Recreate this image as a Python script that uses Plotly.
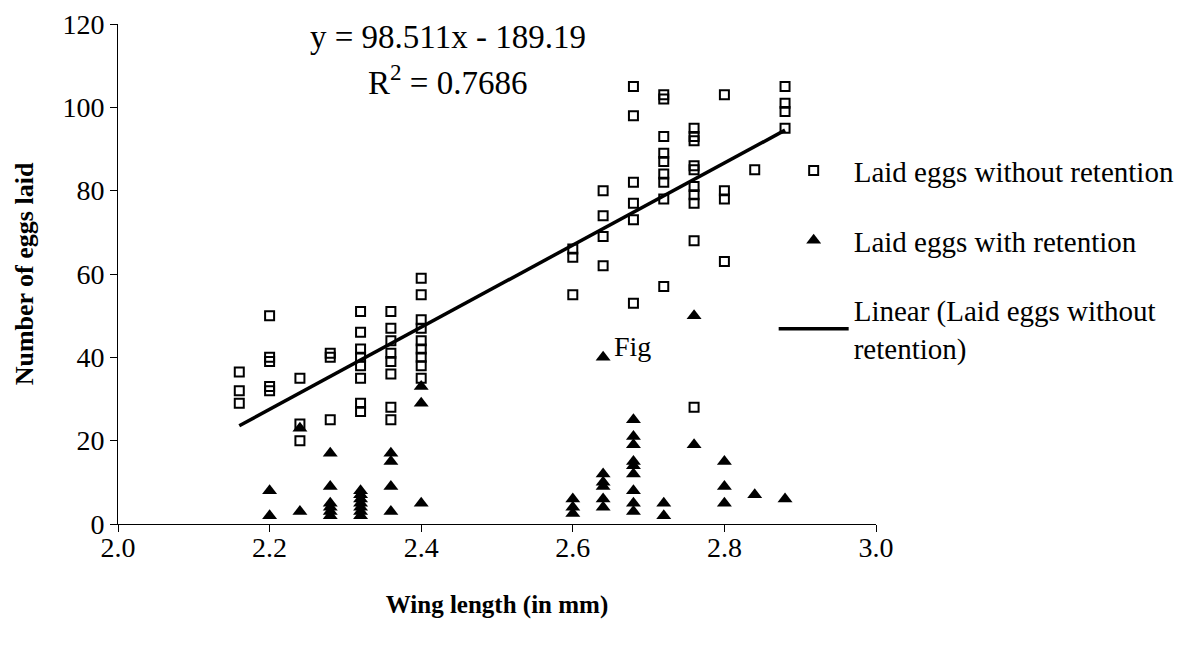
import plotly.graph_objects as go

# Laid eggs without retention (open squares)
wing_without = ([2.16]*3 + [2.20]*5 + [2.24]*3 + [2.28]*3 + [2.32]*8 + [2.36]*8 + [2.40]*9 +
                [2.60]*3 + [2.64]*4 + [2.68]*6 + [2.72]*9 + [2.76]*10 + [2.80]*4 + [2.84]*1 + [2.88]*4)
eggs_without = ([36.5, 32, 29] +
                [50, 40, 39, 33, 32] +
                [35, 24, 20] +
                [41, 40, 25] +
                [51, 46, 42, 40, 38, 35, 29, 27] +
                [51, 47, 44, 41, 39, 36, 28, 25] +
                [59, 55, 49, 47, 44, 42, 40, 38, 35] +
                [66, 64, 55] +
                [80, 74, 69, 62] +
                [105, 98, 82, 77, 73, 53] +
                [103, 102, 93, 89, 87, 84, 82, 78, 57] +
                [95, 93, 92, 86, 85, 81, 79, 77, 68, 28] +
                [103, 80, 78, 63] +
                [85] +
                [105, 101, 99, 95])

# Laid eggs with retention (filled triangles)
wing_with = ([2.20]*2 + [2.24]*2 + [2.28]*6 + [2.32]*7 + [2.36]*4 + [2.40]*3 +
             [2.60]*3 + [2.64]*6 + [2.68]*9 + [2.72]*2 + [2.76]*2 + [2.80]*3 + [2.84]*1 + [2.88]*1)
eggs_with = ([8, 2] +
             [23, 3] +
             [17, 9, 5, 4, 3, 2] +
             [8, 7, 6, 5, 4, 3, 2] +
             [17, 15, 9, 3] +
             [33, 29, 5] +
             [6, 4, 2.5] +
             [40, 12, 10, 9, 6, 4] +
             [25, 21, 19, 15, 14, 12, 8, 5, 3] +
             [5, 2] +
             [50, 19] +
             [15, 9, 5] +
             [7] +
             [6])

# Linear trendline (as labelled on the chart)
trend_slope = 98.511
trend_intercept = -189.19
trend_x = [min(wing_without), max(wing_without)]
trend_y = [trend_slope * x + trend_intercept for x in trend_x]

x_ticks = [2.0, 2.2, 2.4, 2.6, 2.8, 3.0]
x_tick_labels = ["2.0", "2.2", "2.4", "2.6", "2.8", "3.0"]
y_ticks = [0, 20, 40, 60, 80, 100, 120]

FONT = "Liberation Serif, Times New Roman, serif"

fig = go.Figure()
fig.add_trace(go.Scatter(
    x=wing_without, y=eggs_without, mode="markers",
    name="Laid eggs without retention", legendgroup="a",
    marker=dict(symbol="square-open", size=9, color="black", line=dict(width=2, color="black")),
))
fig.add_trace(go.Scatter(
    x=wing_with, y=eggs_with, mode="markers",
    name="Laid eggs with retention", legendgroup="b",
    marker=dict(symbol="triangle-up", size=13, color="black"),
))
fig.add_trace(go.Scatter(
    x=trend_x, y=trend_y, mode="lines",
    name="Linear (Laid eggs without<br>retention)", legendgroup="c",
    line=dict(color="black", width=3.5),
))

fig.add_annotation(x=2.435, y=116.9, xref="x", yref="y", showarrow=False,
                   text="y = 98.511x - 189.19", font=dict(family=FONT, size=33, color="black"))
fig.add_annotation(x=2.435, y=106.6, xref="x", yref="y", showarrow=False,
                   text="R<sup>2</sup> = 0.7686", font=dict(family=FONT, size=33, color="black"))
fig.add_annotation(x=2.652, y=42.5, xref="x", yref="y", showarrow=False, xanchor="left",
                   text="Fig", font=dict(family=FONT, size=28, color="black"))

# The page body adds an 8 px offset, so the figure is 8 px smaller on each leading side
fig.update_layout(
    width=1186, height=643,
    margin=dict(l=110, r=318, t=16, b=127, autoexpand=False),
    paper_bgcolor="white", plot_bgcolor="white",
    font=dict(family=FONT, color="black", size=28),
    showlegend=True,
    legend=dict(
        x=0.865, xanchor="left", y=0.7575, yanchor="top",
        font=dict(family=FONT, size=29, color="black"),
        tracegroupgap=29, itemwidth=70,
        bgcolor="rgba(0,0,0,0)",
    ),
    xaxis=dict(
        range=[2.0, 3.0], tickvals=x_ticks, ticktext=x_tick_labels,
        showline=True, linecolor="black", linewidth=1,
        ticks="outside", ticklen=7, tickcolor="black",
        showgrid=False, zeroline=False, automargin=False,
        ticklabelstandoff=-9,
        tickfont=dict(family=FONT, size=28, color="black"),
        title=dict(text="<b>Wing length (in mm)</b>", font=dict(family=FONT, size=25, color="black"), standoff=33),
    ),
    yaxis=dict(
        range=[0, 120], tickvals=y_ticks,
        showline=True, linecolor="black", linewidth=1,
        ticks="outside", ticklen=7, tickcolor="black",
        showgrid=False, zeroline=False, automargin=False,
        tickfont=dict(family=FONT, size=28, color="black"),
        title=dict(text="<b>Number of eggs laid</b>", font=dict(family=FONT, size=26, color="black"), standoff=21),
    ),
)

fig.write_html("out.html")
